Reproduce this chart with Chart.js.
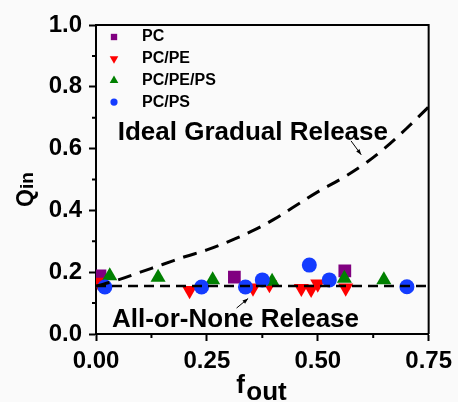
<!DOCTYPE html>
<html lang="en">
<head>
    <meta charset="UTF-8">
    <title>Qin vs fout</title>
    <style>
        body { margin: 0; background: #fafafa; }
    </style>
    <script src="https://cdn.jsdelivr.net/npm/chart.js"></script>
</head>
<body>
    <canvas id="chart" width="458" height="402"></canvas>

    <script>
        // data
        var pcF = [0.009, 0.312, 0.561];
        var pcQ = [0.188, 0.184, 0.204];

        var peF = [0.005, 0.211, 0.354, 0.391, 0.463, 0.485, 0.5, 0.563];
        var peQ = [0.168, 0.141, 0.149, 0.16, 0.148, 0.145, 0.162, 0.149];

        var pepsF = [0.031, 0.14, 0.263, 0.397, 0.56, 0.649];
        var pepsQ = [0.188, 0.183, 0.175, 0.17, 0.18, 0.175];

        var psF = [0.02, 0.238, 0.337, 0.375, 0.481, 0.526, 0.701];
        var psQ = [0.152, 0.152, 0.152, 0.175, 0.223, 0.175, 0.153];

        // ideal gradual release curve (dashed)
        var idealF = [0, 0.05, 0.1, 0.15, 0.2, 0.25, 0.3, 0.35, 0.4, 0.45, 0.5, 0.55, 0.6, 0.65, 0.7, 0.75];
        var idealQ = [0.155, 0.175, 0.2, 0.225, 0.25, 0.272, 0.3, 0.332, 0.37, 0.415, 0.46, 0.5, 0.545, 0.6, 0.665, 0.735];

        // all-or-none release level
        var noneF = [0, 0.75];
        var noneQ = [0.155, 0.155];

        var xTicks = [0, 0.25, 0.5, 0.75];
        var yTicks = [0, 0.2, 0.4, 0.6, 0.8, 1.0];

        var FONT = '"Liberation Sans", Arial, sans-serif';

        function pts(xs, ys) {
            var out = [];
            for (var i = 0; i < xs.length; i++) out.push({ x: xs[i], y: ys[i] });
            return out;
        }

        var series = [
            { label: 'PC', color: 'rgb(128,0,128)', style: 'rect', rot: 0, r: 9, xs: pcF, ys: pcQ },
            { label: 'PC/PE', color: 'rgb(255,0,0)', style: 'triangle', rot: 180, r: 8.7, xs: peF, ys: peQ },
            { label: 'PC/PE/PS', color: 'rgb(0,128,0)', style: 'triangle', rot: 0, r: 8.7, xs: pepsF, ys: pepsQ },
            { label: 'PC/PS', color: 'rgb(20,60,255)', style: 'circle', rot: 0, r: 7.5, xs: psF, ys: psQ }
        ];

        // lines first so they sit on top, PC last so it sits underneath
        var datasets = [
            {
                type: 'line', label: 'Ideal Gradual Release', data: pts(idealF, idealQ),
                borderColor: '#000', borderWidth: 3, borderDash: [14, 9],
                pointRadius: 0, tension: 0.4, fill: false
            },
            {
                type: 'line', label: 'All-or-None Release', data: pts(noneF, noneQ),
                borderColor: '#000', borderWidth: 2.5, borderDash: [10, 6],
                pointRadius: 0, fill: false
            }
        ];
        for (var i = series.length - 1; i >= 0; i--) {
            var s = series[i];
            datasets.push({
                type: 'scatter', label: s.label, data: pts(s.xs, s.ys),
                pointStyle: s.style, rotation: s.rot, pointRadius: s.r, pointHoverRadius: s.r,
                backgroundColor: s.color, borderColor: s.color, borderWidth: 0
            });
        }

        function marker(ctx, style, rot, x, y, r, color) {
            ctx.save();
            ctx.fillStyle = color;
            ctx.beginPath();
            if (style === 'rect') {
                var h = r * Math.SQRT1_2;
                ctx.rect(x - h, y - h, 2 * h, 2 * h);
            } else if (style === 'circle') {
                ctx.arc(x, y, r, 0, Math.PI * 2);
            } else {
                var a = rot * Math.PI / 180;
                for (var k = 0; k < 3; k++) {
                    var px = x + Math.sin(a) * r, py = y - Math.cos(a) * r;
                    if (k === 0) ctx.moveTo(px, py); else ctx.lineTo(px, py);
                    a += Math.PI * 2 / 3;
                }
                ctx.closePath();
            }
            ctx.fill();
            ctx.restore();
        }

        function arrow(ctx, x1, y1, x2, y2) {
            var ang = Math.atan2(y2 - y1, x2 - x1);
            ctx.save();
            ctx.strokeStyle = '#000';
            ctx.fillStyle = '#000';
            ctx.lineWidth = 1;
            ctx.beginPath();
            ctx.moveTo(x1, y1);
            ctx.lineTo(x2, y2);
            ctx.stroke();
            ctx.beginPath();
            ctx.moveTo(x2, y2);
            ctx.lineTo(x2 - 6 * Math.cos(ang - 0.35), y2 - 6 * Math.sin(ang - 0.35));
            ctx.lineTo(x2 - 6 * Math.cos(ang + 0.35), y2 - 6 * Math.sin(ang + 0.35));
            ctx.closePath();
            ctx.fill();
            ctx.restore();
        }

        var decorations = {
            id: 'decorations',
            beforeDraw: function (chart) {
                var ctx = chart.ctx;
                ctx.save();
                ctx.fillStyle = '#fafafa';
                ctx.fillRect(0, 0, chart.width, chart.height);
                ctx.restore();
            },
            afterDraw: function (chart) {
                var ctx = chart.ctx, a = chart.chartArea;
                var xs = chart.scales.x, ys = chart.scales.y;
                ctx.save();

                // top and right frame
                ctx.strokeStyle = '#000';
                ctx.lineWidth = 2;
                ctx.beginPath();
                ctx.moveTo(a.left, a.top);
                ctx.lineTo(a.right, a.top);
                ctx.lineTo(a.right, a.bottom);
                ctx.stroke();

                // minor ticks
                ctx.lineWidth = 2;
                ctx.beginPath();
                for (var v = 0.1; v < 1; v += 0.2) {
                    var py = ys.getPixelForValue(v);
                    ctx.moveTo(a.left - 4, py);
                    ctx.lineTo(a.left, py);
                }
                for (var u = 0.125; u < 0.75; u += 0.25) {
                    var px = xs.getPixelForValue(u);
                    ctx.moveTo(px, a.bottom);
                    ctx.lineTo(px, a.bottom + 4);
                }
                ctx.stroke();

                // legend
                ctx.font = 'bold 16px ' + FONT;
                ctx.fillStyle = '#000';
                ctx.textBaseline = 'middle';
                var lx = a.left + 18, ly = a.top + 12;
                var legR = { rect: 4.5, triangle: 5, circle: 3.6 };
                for (var i = 0; i < series.length; i++) {
                    var s = series[i];
                    var yy = ly + i * 21.7;
                    marker(ctx, s.style, s.rot, lx, yy, legR[s.style], s.color);
                    ctx.fillStyle = '#000';
                    ctx.fillText(s.label, lx + 28, yy);
                }

                // annotations
                ctx.font = 'bold 26px ' + FONT;
                ctx.textBaseline = 'alphabetic';
                ctx.textAlign = 'left';
                ctx.fillText('Ideal Gradual Release', xs.getPixelForValue(0.049), ys.getPixelForValue(0.628));
                ctx.fillText('All-or-None Release', xs.getPixelForValue(0.036), ys.getPixelForValue(0.023));
                arrow(ctx, xs.getPixelForValue(0.575), ys.getPixelForValue(0.625),
                    xs.getPixelForValue(0.598), ys.getPixelForValue(0.58));
                arrow(ctx, xs.getPixelForValue(0.317), ys.getPixelForValue(0.084),
                    xs.getPixelForValue(0.343), ys.getPixelForValue(0.115));

                // x title: f_out
                var cx = (a.left + a.right) / 2;
                ctx.font = 'bold 26px ' + FONT;
                ctx.fillText('f', cx - 26, 393);
                ctx.fillText('out', cx - 16, 400);

                // y title: Q_in (rotated)
                ctx.translate(33, 207);
                ctx.rotate(-Math.PI / 2);
                ctx.font = 'bold 23px ' + FONT;
                ctx.fillText('Q', 0, 0);
                ctx.font = 'bold 19px ' + FONT;
                ctx.fillText('in', 18, 0);
                ctx.restore();
            }
        };

        var ctx = document.getElementById('chart').getContext('2d');
        var chart = new Chart(ctx, {
            data: { datasets: datasets },
            options: {
                responsive: false,
                animation: false,
                layout: { padding: { top: 25, right: 28, left: 0, bottom: 0 } },
                plugins: { legend: { display: false }, tooltip: { enabled: false } },
                scales: {
                    x: {
                        type: 'linear', min: 0, max: 0.75,
                        afterBuildTicks: function (scale) {
                            scale.ticks = xTicks.map(function (v) { return { value: v }; });
                        },
                        afterFit: function (scale) { scale.height = 68; },
                        grid: { drawOnChartArea: false, drawTicks: true, tickLength: 7, tickWidth: 2, tickColor: '#000' },
                        border: { display: true, color: '#000', width: 2 },
                        ticks: {
                            padding: 6, color: '#000', maxRotation: 0,
                            font: { family: FONT, size: 24, weight: 'bold' },
                            callback: function (v) { return v.toFixed(2); }
                        }
                    },
                    y: {
                        type: 'linear', min: 0, max: 1.0,
                        afterBuildTicks: function (scale) {
                            scale.ticks = yTicks.map(function (v) { return { value: v }; });
                        },
                        afterFit: function (scale) { scale.width = 96; },
                        grid: { drawOnChartArea: false, drawTicks: true, tickLength: 7, tickWidth: 2, tickColor: '#000' },
                        border: { display: true, color: '#000', width: 2 },
                        ticks: {
                            padding: 7, color: '#000',
                            font: { family: FONT, size: 24, weight: 'bold' },
                            callback: function (v) { return v.toFixed(1); }
                        }
                    }
                }
            },
            plugins: [decorations]
        });
    </script>
</body>
</html>
